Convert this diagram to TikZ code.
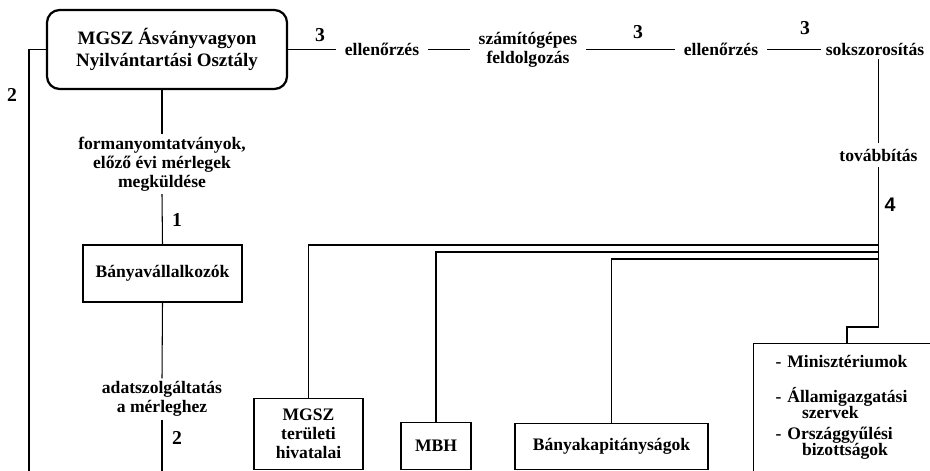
\documentclass[tikz,border=0pt]{standalone}
\usepackage{fontspec}
\setmainfont{Liberation Serif}
\newfontfamily\numsans{Liberation Sans}
\usetikzlibrary{positioning}

\begin{document}
\begin{tikzpicture}[x=0.025cm,y=-0.025cm,
	every node/.style={font=\bfseries\fontsize{12.5}{13.5}\selectfont,align=center,inner sep=2pt},
	box/.style={draw,line width=0.9pt,inner sep=0pt},
	step label/.style={inner xsep=6pt},
	num/.style={font=\bfseries\fontsize{14}{14}\selectfont},
	link/.style={line width=0.75pt}]
	\useasboundingbox (0,0) rectangle (930,471);
	\clip (0,0) rectangle (930,471);
	% top row
	\node[draw,line width=1.6pt,rounded corners=9pt,minimum width=6cm,minimum height=1.975cm,
	font=\bfseries\fontsize{13.5}{15.6}\selectfont] (mgsz) at (167,49.5) {MGSZ Ásványvagyon\\Nyilvántartási Osztály};
	\node[step label] (ell1) at (382,49.5) {ellenőrzés};
	\node[step label] (szam) at (528,49.5) {számítógépes\\feldolgozás};
	\node[step label] (ell2) at (721,49.5) {ellenőrzés};
	\node[step label,inner xsep=3pt] (sok) at (875,49.5) {sokszorosítás};
	\node[inner ysep=4pt] (tov) at (878.5,155) {továbbítás};
	\draw[link] (mgsz.east) -- (ell1.west);
	\draw[link] (ell1.east) -- (szam.west);
	\draw[link] (szam.east) -- (ell2.west);
	\draw[link] (ell2.east) -- (sok.west);
	\node[num] at (320,35) {3};
	\node[num] at (638,32) {3};
	\node[num] at (805,28) {3};
	% left column
	\node (form) at (162,164) {formanyomtatványok,\\előző évi mérlegek\\megküldése};
	\node[box,minimum width=3.975cm,minimum height=1.425cm] (bany) at (162.5,273.5) {Bányavállalkozók};
	\node (adat) at (162,399) {adatszolgáltatás\\a mérleghez};
	\coordinate (botend) at (162,480);
	\coordinate (leftend) at (29,480);
	\draw[link] (mgsz.south -| form.north) -- (form.north);
	\draw[link] (form.south) -- (bany.north);
	\draw[link] (bany.south) -- (adat.north);
	\draw[link] (adat.south) -- (botend);
	\draw[link] (mgsz.west) -| (leftend);
	\node[num] at (177,220) {1};
	\node[num] at (177,438) {2};
	\node[num] at (12,95) {2};
	% recipients
	\node[box,minimum width=2.725cm,minimum height=1.775cm] (ter) at (308.5,434) {MGSZ\\területi\\hivatalai};
	\node[box,minimum width=1.75cm,minimum height=1.175cm] (mbh) at (436,446) {MBH};
	\node[box,minimum width=4.825cm,minimum height=1.15cm] (kap) at (611.5,446.5) {Bányakapitányságok};
	\node[box,anchor=north west,minimum height=3.2cm,align=left,text width=3.8cm,inner xsep=0.55cm,
	font=\bfseries\fontsize{12.5}{11.5}\selectfont] (mins) at (753,343)
	{- Minisztériumok\\[13pt]- Államigazgatási\\\hspace*{1.5em}szervek\\[3.5pt]- Országgyűlési\\\hspace*{1.5em}bizottságok};
	\coordinate (step) at (847,327);
	\draw[link] (sok.south -| tov.north) -- (tov.north);
	\draw[link] (tov.south) |- (step) -- (step |- mins.north);
	\draw[link] (tov.south |- 0,245) -| (ter.north);
	\draw[link] (tov.south |- 0,252) -| (mbh.north);
	\draw[link] (tov.south |- 0,259) -| (kap.north);
	\node[num,font=\numsans\bfseries\fontsize{14}{14}\selectfont] at (890,205) {4};
\end{tikzpicture}
\end{document}
